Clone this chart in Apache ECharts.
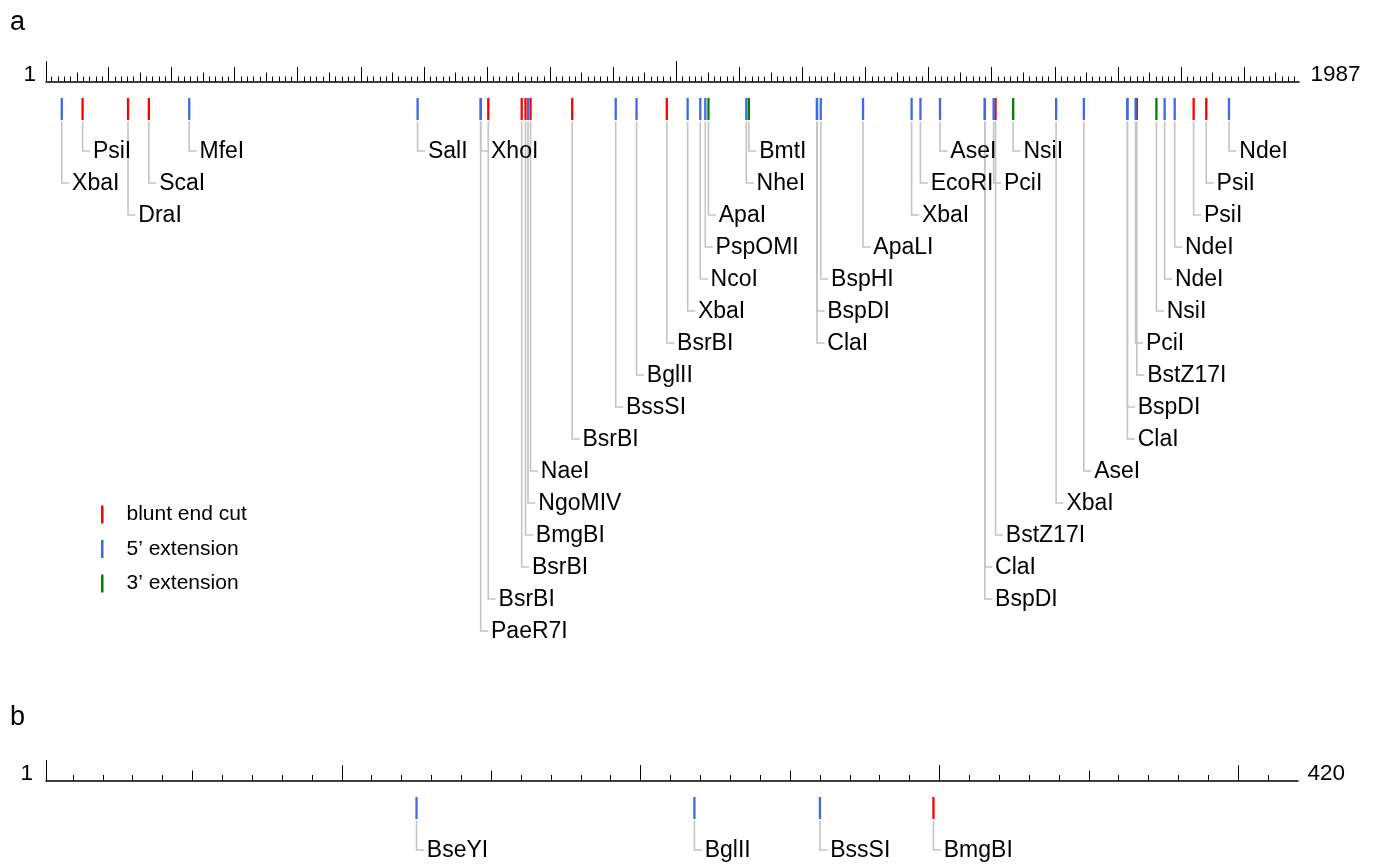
<!DOCTYPE html>
<html>
<head>
<meta charset="utf-8">
<script src="https://cdn.jsdelivr.net/npm/echarts@6/dist/echarts.min.js"></script>
<style>
html,body{margin:0;padding:0;background:#fff;}
#chart{width:1381px;height:868px;}
</style>
</head>
<body>
<div id="chart"></div>
<script>
// ---------------- data ----------------
const rangeA = [1, 1987];
const rangeB = [1, 420];
const tickStepsA = [10, 50, 100];
const tallTicksA = [1, 1000];
const tickStepsB = [10, 50, 100];
const tallTicksB = [1];

const enzymesA = ['XbaI','PsiI','DraI','ScaI','MfeI','SalI','XhoI','PaeR7I','BsrBI','BsrBI','BmgBI','NgoMIV','NaeI',
  'BsrBI','BssSI','BglII','BsrBI','XbaI','NcoI','PspOMI','ApaI','NheI','BmtI','ClaI','BspDI','BspHI','ApaLI',
  'XbaI','EcoRI','AseI','ClaI','BspDI','PciI','BstZ17I','NsiI','XbaI','AseI','ClaI','BspDI','PciI','BstZ17I',
  'NsiI','NdeI','NdeI','PsiI','PsiI','NdeI'];
const sitesA = [26,59,131,164,228,590,690,690,702,755,761,765,769,
  835,904,937,985,1018,1038,1046,1051,1111,1115,1223,1223,1229,1296,
  1373,1387,1418,1489,1489,1503,1506,1534,1602,1646,1715,1715,1728,1730,
  1761,1774,1790,1820,1840,1876];
const cutTypesA = ['five','blunt','blunt','blunt','five','five','five','five','blunt','blunt','blunt','five','blunt',
  'blunt','five','five','blunt','five','five','five','three','five','three','five','five','five','five',
  'five','five','five','five','five','five','blunt','three','five','five','five','five','five','blunt',
  'three','five','five','blunt','blunt','five'];
// label row (layout level) of each enzyme label
const labelLevelsA = [1,0,2,1,0,0,0,15,14,13,12,11,10,
  9,8,7,6,5,4,3,2,1,0,6,5,4,3,
  2,1,0,13,14,1,12,0,11,10,9,8,6,7,
  5,4,3,2,1,0];

const enzymesB = ['BseYI','BglII','BssSI','BmgBI'];
const sitesB = [125,218,260,298];
const cutTypesB = ['five','five','five','blunt'];
const labelLevelsB = [0,0,0,0];

const cutTypeNames = {blunt:'blunt end cut', five:'5\u2019 extension', three:'3\u2019 extension'};
const cutTypeOrder = ['blunt','five','three'];

// ---------------- style ----------------
const FONT = '"Liberation Sans", Arial, Helvetica, sans-serif';
const colors = {blunt:'#ff0000', five:'#4169e1', three:'#008000'};
const M = {markTop:16, markBottom:38, row0:69, rowStep:32};
const tickLens = [5.5, 9.5, 15, 21];
const tickLensB = [6, 10.5, 16, 21];

const panels = [
  {range: rangeA, steps: tickStepsA, tall: tallTicksA, lens: tickLens, rect:{left:46, right:82, top:82, height:600}, ymax:600,
   gaps: [11.5, 10], enzymes: enzymesA, sites: sitesA, types: cutTypesA, levels: labelLevelsA},
  {range: rangeB, steps: tickStepsB, tall: tallTicksB, lens: tickLensB, rect:{left:46, right:83, top:781, height:80}, ymax:80,
   gaps: [9.5, 13], enzymes: enzymesB, sites: sitesB, types: cutTypesB, levels: labelLevelsB}
];

function multiples(step, lo, hi) {
  const out = [];
  for (let v = Math.ceil(lo / step) * step; v < hi; v += step) out.push(v);
  return out;
}

const grids = [], xAxes = [], yAxes = [], series = [];

panels.forEach((p, pi) => {
  const tickSets = p.steps.map(s => multiples(s, p.range[0], p.range[1])).concat([p.tall]);
  const firstGrid = grids.length;
  tickSets.forEach((vals, li) => {
    const gi = grids.length;
    grids.push(Object.assign({}, p.rect));
    const ax = {
      type: 'value', gridIndex: gi, position: 'top', min: p.range[0], max: p.range[1],
      axisLine: {show: li === 0, onZero: false, lineStyle: {color: '#000', width: 1.5}},
      axisTick: {show: true, customValues: vals, length: p.lens[li], lineStyle: {color: '#000', width: 1}},
      axisLabel: {show: false}, splitLine: {show: false}
    };
    const nameStyle = {fontSize: 22.5, color: '#000', fontFamily: FONT, verticalAlign: 'bottom', lineHeight: 15};
    if (li === 0) { ax.name = String(p.range[1]); ax.nameLocation = 'end'; ax.nameGap = p.gaps[0]; ax.nameTextStyle = nameStyle; }
    if (li === 1) { ax.name = String(p.range[0]); ax.nameLocation = 'start'; ax.nameGap = p.gaps[1]; ax.nameTextStyle = nameStyle; }
    xAxes.push(ax);
    yAxes.push({type: 'value', gridIndex: gi, min: 0, max: p.ymax, inverse: true, show: false});
  });

  cutTypeOrder.forEach(t => {
    const items = [];
    p.sites.forEach((s, i) => {
      if (p.types[i] === t) items.push({pos: s, lvl: p.levels[i], name: p.enzymes[i]});
    });
    series.push({
      type: 'custom', name: cutTypeNames[t], xAxisIndex: firstGrid, yAxisIndex: firstGrid,
      itemStyle: {color: colors[t]}, clip: false, silent: true,
      data: items.map(d => [d.pos, d.lvl]),
      renderItem: function (params, api) {
        const d = items[params.dataIndex];
        const x = api.coord([d.pos, 0])[0];
        const yTop = api.coord([d.pos, M.markTop])[1];
        const yBot = api.coord([d.pos, M.markBottom])[1];
        const yRow = api.coord([d.pos, M.row0 + d.lvl * M.rowStep])[1];
        return {
          type: 'group',
          children: [
            {type: 'polyline', shape: {points: [[x, yBot + 1.5], [x, yRow], [x + 7.5, yRow]]},
             style: {stroke: '#c4c4c4', lineWidth: 1.6, fill: 'none'}, z2: 1},
            {type: 'rect', shape: {x: x - 1.15, y: yTop, width: 2.3, height: yBot - yTop},
             style: {fill: api.visual('color')}, z2: 2},
            {type: 'text', x: x + 10.3, y: yRow + 1,
             style: {text: d.name, fill: '#000', fontSize: 23, fontFamily: FONT, verticalAlign: 'middle', align: 'left'}, z2: 3}
          ]
        };
      }
    });
  });
});

const chart = echarts.init(document.getElementById('chart'), null, {renderer: 'canvas'});
chart.setOption({
  backgroundColor: '#fff',
  animation: false,
  grid: grids,
  xAxis: xAxes,
  yAxis: yAxes,
  legend: {
    data: cutTypeOrder.map(t => cutTypeNames[t]),
    orient: 'vertical', left: 96, top: 499, icon: 'rect',
    itemWidth: 2.5, itemHeight: 18, itemGap: 13.5, selectedMode: false,
    textStyle: {fontSize: 21, color: '#000', fontFamily: FONT, padding: [0, 0, 0, 18]}
  },
  graphic: [
    {type: 'text', left: 10, top: 9, style: {text: 'a', fontSize: 27, fill: '#000', fontFamily: FONT}},
    {type: 'text', left: 10, top: 704, style: {text: 'b', fontSize: 27, fill: '#000', fontFamily: FONT}}
  ],
  series: series
});
</script>
</body>
</html>
